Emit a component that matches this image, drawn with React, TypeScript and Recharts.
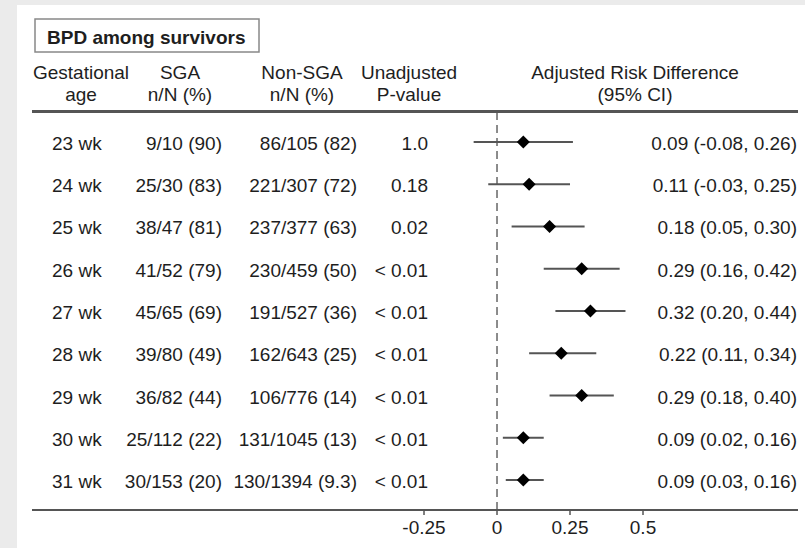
import { ScatterChart, Scatter, XAxis, YAxis, ErrorBar, ReferenceLine } from "recharts";

const ages = ["23 wk", "24 wk", "25 wk", "26 wk", "27 wk", "28 wk", "29 wk", "30 wk", "31 wk"];
const sgaCounts = ["9/10 (90)", "25/30 (83)", "38/47 (81)", "41/52 (79)", "45/65 (69)", "39/80 (49)", "36/82 (44)", "25/112 (22)", "30/153 (20)"];
const nonSgaCounts = ["86/105 (82)", "221/307 (72)", "237/377 (63)", "230/459 (50)", "191/527 (36)", "162/643 (25)", "106/776 (14)", "131/1045 (13)", "130/1394 (9.3)"];
const pValues = ["1.0", "0.18", "0.02", "< 0.01", "< 0.01", "< 0.01", "< 0.01", "< 0.01", "< 0.01"];
const riskDiff = [0.09, 0.11, 0.18, 0.29, 0.32, 0.22, 0.29, 0.09, 0.09];
const ciLow = [-0.08, -0.03, 0.05, 0.16, 0.2, 0.11, 0.18, 0.02, 0.03];
const ciHigh = [0.26, 0.25, 0.3, 0.42, 0.44, 0.34, 0.4, 0.16, 0.16];
const xTicks = [-0.25, 0, 0.25, 0.5];

const rows = ages.map((_, i) => ({
  row: i,
  est: riskDiff[i],
  err: [riskDiff[i] - ciLow[i], ciHigh[i] - riskDiff[i]],
}));

const FONT = "'Liberation Sans', Arial, Helvetica, sans-serif";
const INK = "#1e1e1e";
const LINE = "#555";
const fmt = (v: number) => v.toFixed(2);

// row index domain: header rule sits at the top edge, axis at the bottom
const yDomain = [-0.71, 8.71];
const xDomain = [-1.5925, 1.0308];

// x positions of the text columns
const COL = { age: 52, sga: 222, nonSga: 357, p: 428, ci: 797 };

function RowTick(props: any) {
  const { y, payload } = props;
  const i = payload.value as number;
  const t = { fontSize: 19, fill: INK, fontFamily: FONT, dy: 8 };
  return (
    <g>
      <text x={COL.age} y={y} textAnchor="start" {...t}>{ages[i]}</text>
      <text x={COL.sga} y={y} textAnchor="end" {...t}>{sgaCounts[i]}</text>
      <text x={COL.nonSga} y={y} textAnchor="end" {...t}>{nonSgaCounts[i]}</text>
      <text x={COL.p} y={y} textAnchor="end" {...t}>{pValues[i]}</text>
      <text x={COL.ci} y={y} textAnchor="end" {...t}>
        {`${fmt(riskDiff[i])} (${fmt(ciLow[i])}, ${fmt(ciHigh[i])})`}
      </text>
    </g>
  );
}

function Diamond(props: any) {
  const { cx, cy } = props;
  const r = 6.5;
  return <polygon points={`${cx},${cy - r} ${cx + r},${cy} ${cx},${cy + r} ${cx - r},${cy}`} fill="#000" />;
}

const headers = [
  { x: 81, top: "Gestational", bottom: "age" },
  { x: 180, top: "SGA", bottom: "n/N (%)" },
  { x: 302, top: "Non-SGA", bottom: "n/N (%)" },
  { x: 409, top: "Unadjusted", bottom: "P-value" },
  { x: 635, top: "Adjusted Risk Difference", bottom: "(95% CI)" },
];

function HeaderBlock() {
  return (
    <g>
      <rect x={35} y={19} width={224} height={33} fill="#fff" stroke="#888" strokeWidth={1.5} />
      <text x={47} y={43.5} fontSize={19} fontWeight="bold" fill={INK} fontFamily={FONT}>
        BPD among survivors
      </text>
      {headers.map((h) => (
        <g key={h.top}>
          <text x={h.x} y={79} textAnchor="middle" fontSize={19} fill={INK} fontFamily={FONT}>{h.top}</text>
          <text x={h.x} y={101} textAnchor="middle" fontSize={19} fill={INK} fontFamily={FONT}>{h.bottom}</text>
        </g>
      ))}
    </g>
  );
}

export default function App() {
  return (
    <div style={{ position: "absolute", left: 0, top: 0, width: 805, height: 548, background: "#ebebeb", fontFamily: FONT }}>
      <div style={{ position: "absolute", left: 17, top: 5, right: 0, bottom: 0, background: "#fff" }} />
      <div style={{ position: "absolute", left: 0, top: 0 }}>
        <ScatterChart width={805} height={548} margin={{ top: 112, right: 7, bottom: 0, left: 0 }}>
          <HeaderBlock />
          <XAxis
            type="number"
            dataKey="est"
            domain={xDomain}
            allowDataOverflow
            ticks={xTicks}
            height={38}
            tickSize={5}
            tickMargin={6}
            axisLine={{ stroke: LINE, strokeWidth: 2 }}
            tickLine={{ stroke: LINE, strokeWidth: 1.5 }}
            tick={{ fontSize: 19, fill: INK, fontFamily: FONT }}
          />
          <YAxis
            type="number"
            dataKey="row"
            domain={yDomain}
            allowDataOverflow
            reversed
            ticks={ages.map((_, i) => i)}
            width={32}
            axisLine={false}
            tickLine={false}
            tick={<RowTick />}
            interval={0}
          />
          <ReferenceLine x={0} stroke="#666" strokeWidth={1.5} strokeDasharray="8 5" />
          <Scatter data={rows} shape={<Diamond />} isAnimationActive={false}>
            <ErrorBar dataKey="err" direction="x" width={0} stroke={LINE} strokeWidth={2} isAnimationActive={false} />
          </Scatter>
        </ScatterChart>
      </div>
      {/* rule under the column headers, same span as the plot */}
      <div style={{ position: "absolute", left: 32, top: 110, width: 766, height: 3, background: LINE }} />
    </div>
  );
}
